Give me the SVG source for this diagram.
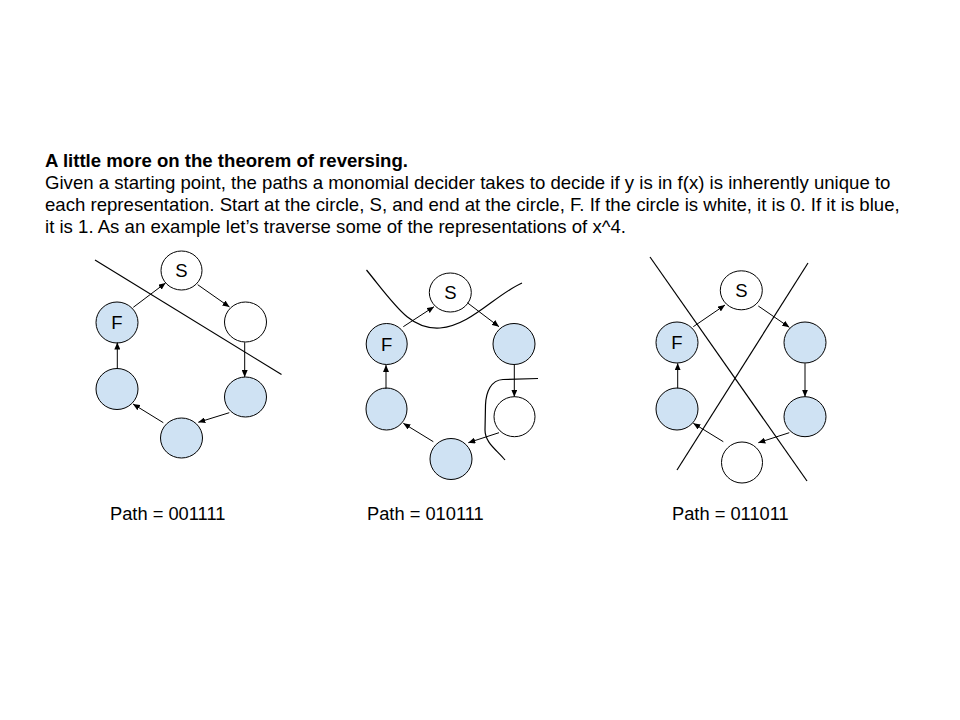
<svg xmlns="http://www.w3.org/2000/svg" width="960" height="720" viewBox="0 0 960 720">
<defs>
<marker id="ah" markerWidth="8" markerHeight="6" refX="7" refY="3" orient="auto" markerUnits="userSpaceOnUse">
<path d="M0,0 L7,3 L0,6 Z" fill="#000"/>
</marker>
<style>
text{font-family:"Liberation Sans",Arial,sans-serif;fill:#000;font-size:18.6px}
.w{fill:#fff;stroke:#000;stroke-width:1}
.b{fill:#cfe2f3;stroke:#000;stroke-width:1}
.c{fill:none;stroke:#000;stroke-width:1;marker-end:url(#ah)}
.cut{fill:none;stroke:#000;stroke-width:1.2}
.lbl{text-anchor:middle;font-size:18.5px}
.p{font-size:18.3px}
</style>
</defs>
<rect width="960" height="720" fill="#fff"/>
<g id="intro">
<text x="45" y="166.5" font-weight="bold">A little more on the theorem of reversing.</text>
<text x="45" y="188.5">Given a starting point, the paths a monomial decider takes to decide if y is in f(x) is inherently unique to</text>
<text x="45" y="210.5">each representation. Start at the circle, S, and end at the circle, F. If the circle is white, it is 0. If it is blue,</text>
<text x="45" y="232.5">it is 1. As an example let’s traverse some of the representations of x^4.</text>
</g>
<g id="d1-S"><ellipse class="w" cx="181.5" cy="270.5" rx="20.5" ry="19.5"/><text class="lbl" x="181.5" y="277.2">S</text></g>
<g id="d1-n2"><ellipse class="w" cx="245.5" cy="322" rx="21" ry="20"/></g>
<g id="d1-n3"><ellipse class="b" cx="245.5" cy="397" rx="21" ry="20"/></g>
<g id="d1-n4"><ellipse class="b" cx="181.5" cy="438" rx="21" ry="20"/></g>
<g id="d1-n5"><ellipse class="b" cx="117" cy="389" rx="21" ry="20.5"/></g>
<g id="d1-F"><ellipse class="b" cx="117" cy="322.5" rx="21" ry="20.5"/><text class="lbl" x="117" y="329.2">F</text></g>
<g id="d2-S"><ellipse class="w" cx="450.3" cy="292.5" rx="21" ry="19.5"/><text class="lbl" x="450.3" y="299.2">S</text></g>
<g id="d2-n2"><ellipse class="b" cx="514" cy="344" rx="21" ry="20.5"/></g>
<g id="d2-n3"><ellipse class="w" cx="514.5" cy="416.7" rx="20.5" ry="20"/></g>
<g id="d2-n4"><ellipse class="b" cx="451" cy="459" rx="21" ry="20.5"/></g>
<g id="d2-n5"><ellipse class="b" cx="386.5" cy="409" rx="20.5" ry="21"/></g>
<g id="d2-F"><ellipse class="b" cx="386.7" cy="344" rx="20.5" ry="20.5"/><text class="lbl" x="386.7" y="350.7">F</text></g>
<g id="d3-S"><ellipse class="w" cx="741.3" cy="290.3" rx="21" ry="19.5"/><text class="lbl" x="741.3" y="297">S</text></g>
<g id="d3-n2"><ellipse class="b" cx="805" cy="342.5" rx="21" ry="20.5"/></g>
<g id="d3-n3"><ellipse class="b" cx="805" cy="416.7" rx="21" ry="20"/></g>
<g id="d3-n4"><ellipse class="w" cx="742" cy="462.5" rx="20.5" ry="20.5"/></g>
<g id="d3-n5"><ellipse class="b" cx="677" cy="409" rx="21" ry="21"/></g>
<g id="d3-F"><ellipse class="b" cx="677" cy="342.5" rx="21" ry="20.5"/><text class="lbl" x="677" y="349.2">F</text></g>
<g id="connectors">
<line class="c" x1="197.7" y1="284.7" x2="229.5" y2="307"/>
<line class="c" x1="244.7" y1="342.3" x2="244.7" y2="377"/>
<line class="c" x1="229.3" y1="412.7" x2="198.3" y2="422.3"/>
<line class="c" x1="163.3" y1="422.7" x2="133" y2="404"/>
<line class="c" x1="117.3" y1="369" x2="117.3" y2="342.5"/>
<line class="c" x1="133.3" y1="307.3" x2="165.5" y2="283"/>
<line class="c" x1="467.3" y1="302.7" x2="499" y2="326.7"/>
<line class="c" x1="514.3" y1="365" x2="514.3" y2="396.7"/>
<line class="c" x1="499" y1="432.7" x2="468.3" y2="442.7"/>
<line class="c" x1="433.3" y1="441.7" x2="403.3" y2="423.3"/>
<line class="c" x1="386" y1="389" x2="386" y2="365"/>
<line class="c" x1="403.3" y1="326.7" x2="434" y2="306.7"/>
<line class="c" x1="758.3" y1="306" x2="789.3" y2="327.3"/>
<line class="c" x1="805" y1="363.3" x2="805" y2="396.7"/>
<line class="c" x1="789.3" y1="432.7" x2="758.3" y2="442.7"/>
<line class="c" x1="723.3" y1="441.7" x2="693.3" y2="423.3"/>
<line class="c" x1="677.7" y1="388.3" x2="677.7" y2="363.3"/>
<line class="c" x1="693.3" y1="326.7" x2="725" y2="305"/>
</g>
<g id="cuts">
<line class="cut" x1="95" y1="260" x2="281.5" y2="374.5"/>
<path class="cut" d="M366.5,270 C395,305 410,330 440,328 C470,326 495,295 522,283"/>
<path class="cut" d="M538,378.5 L503,379.5 C491,380 486,392 485.5,405 L485,430 C485,443 497,450 505,460"/>
<line class="cut" x1="650" y1="257" x2="807" y2="481"/>
<line class="cut" x1="808" y1="263" x2="677" y2="470"/>
</g>
<g id="labels">
<text class="p" x="110" y="520">Path = 001111</text>
<text class="p" x="367" y="520">Path = 010111</text>
<text class="p" x="672" y="520">Path = 011011</text>
</g>
</svg>
